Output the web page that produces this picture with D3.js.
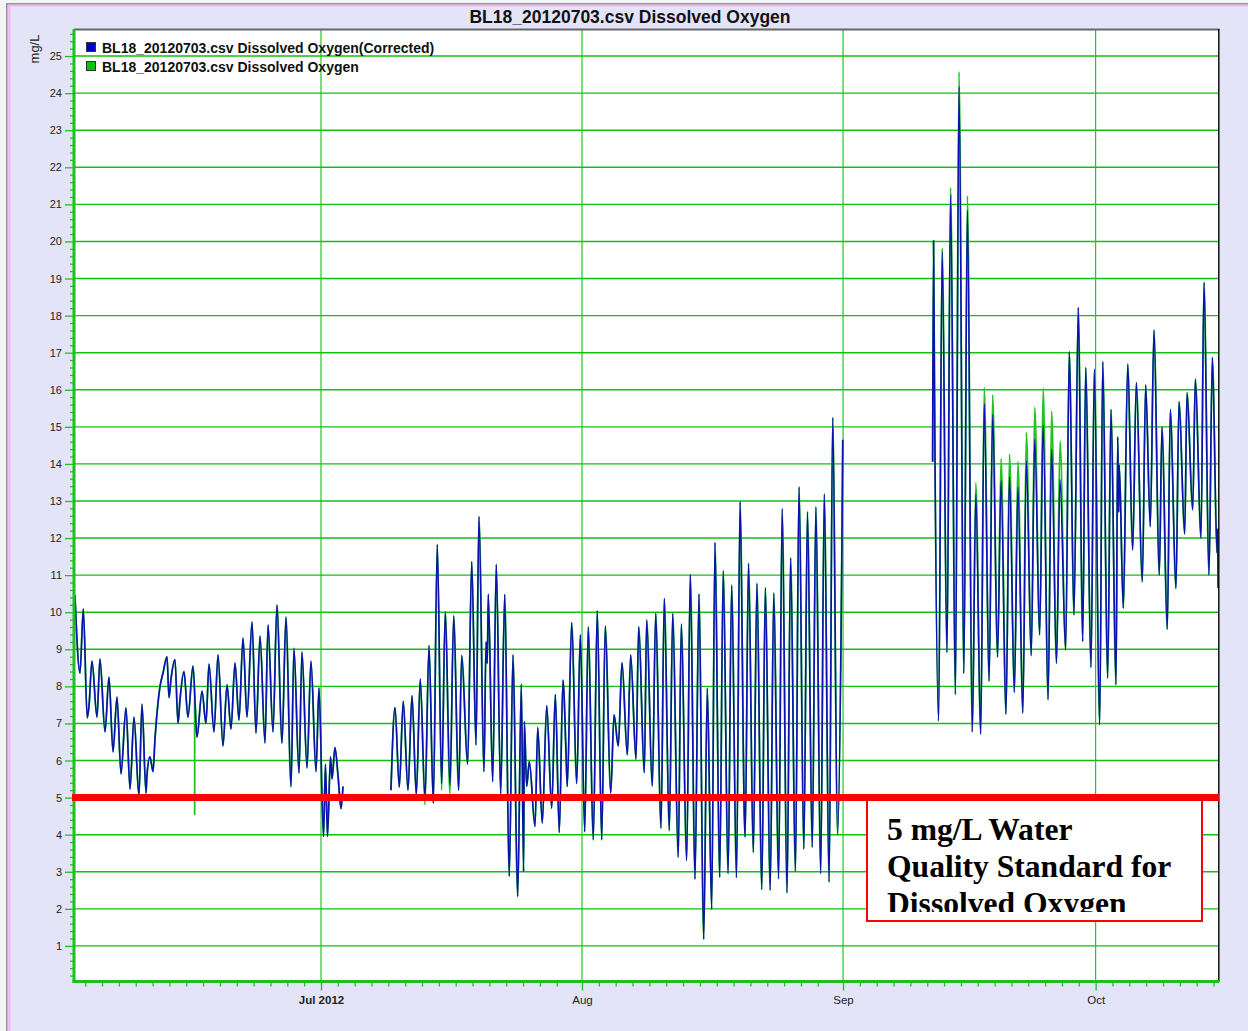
<!DOCTYPE html>
<html lang="en">
<head>
<meta charset="UTF-8">
<title>BL18_20120703.csv Dissolved Oxygen</title>
<script src="https://cdn.jsdelivr.net/npm/d3@7"></script>
<style>
  body { margin: 0; background: #fff; }
  svg { display: block; font-family: "Liberation Sans", Arial, sans-serif; }
</style>
</head>
<body>
<svg></svg>
<script>
const width = 1248, height = 1031;
const plot = { left: 74, right: 1218, top: 29, bottom: 981.5 };

const chartTitle = 'BL18_20120703.csv Dissolved Oxygen';
const seriesNames = ['BL18_20120703.csv Dissolved Oxygen(Corrected)', 'BL18_20120703.csv Dissolved Oxygen'];
const yLabel = 'mg/L';
const monthTicks = ['2012-07-01', '2012-08-01', '2012-09-01', '2012-10-01'];
const monthLabels = ['Jul 2012', 'Aug', 'Sep', 'Oct'];
const timeRange = ['2012-06-01T16:00Z', '2012-10-15T12:45Z'];
const valueRange = [0.04, 25.73];
const standard = 5;
const noteLines = ['5 mg/L Water', 'Quality Standard for', 'Dissolved Oxygen'];

// readings: [days since 2012-07-01 00:00 UTC, mg/L] - one array per logger deployment
const juneSeg = [
  [-29.22, 10.46], [-28.62, 8.36], [-28.23, 10.09], [-27.76, 7.15], [-27.55, 7.47], [-27.20, 8.68],
  [-26.60, 7.17], [-26.25, 8.74], [-25.65, 6.77], [-25.18, 8.25], [-24.70, 6.23], [-24.23, 7.71],
  [-23.75, 5.64], [-23.16, 7.42], [-22.68, 5.23], [-22.21, 7.17], [-21.62, 5.05], [-21.26, 7.52],
  [-20.78, 5.12], [-20.67, 5.6], [-20.31, 6.1], [-19.95, 5.7], [-19.71, 6.6], [-19.36, 7.55],
  [-19.12, 8.0], [-18.76, 8.36], [-18.29, 8.8], [-18.05, 7.7], [-17.81, 8.2], [-17.34, 8.72],
  [-16.98, 7.0], [-16.75, 7.63], [-16.27, 8.4], [-15.80, 7.17], [-15.20, 8.55], [-14.73, 6.63],
  [-14.13, 7.87], [-13.66, 7.0], [-13.30, 8.6], [-12.71, 6.77], [-12.23, 8.85], [-11.64, 6.39],
  [-11.16, 8.04], [-10.69, 6.85], [-10.21, 8.63], [-9.74, 7.09], [-9.26, 9.3], [-8.79, 7.17],
  [-8.19, 9.74], [-7.72, 6.74], [-7.24, 9.36], [-6.65, 6.47], [-6.29, 9.66], [-5.70, 6.77],
  [-5.23, 10.19], [-4.63, 6.47], [-4.16, 9.87], [-3.56, 5.29], [-3.21, 9.03], [-2.61, 5.66],
  [-2.26, 8.93], [-1.66, 5.8], [-1.19, 8.68], [-0.59, 5.7], [-0.24, 7.96], [0.30, 3.95],
  [0.53, 5.9], [0.77, 3.95], [1.13, 6.1], [1.31, 5.5], [1.66, 6.35], [2.02, 5.6], [2.38, 4.7], [2.61, 5.3]
];
const julyAugSeg = [
  [8.31, 5.2], [8.79, 7.43], [9.30, 5.28], [9.77, 7.6], [10.33, 5.2], [10.81, 7.75], [11.32, 5.07],
  [11.79, 8.2], [12.35, 5.0], [12.83, 9.1], [13.34, 4.85], [13.81, 11.83], [14.33, 5.38], [14.76, 10.01],
  [15.32, 5.34], [15.76, 9.9], [16.35, 5.2], [16.71, 8.83], [17.42, 5.9], [17.90, 11.36], [18.41, 6.42],
  [18.76, 12.58], [19.36, 5.7], [19.60, 9.2], [19.75, 8.62], [19.87, 10.48], [20.39, 5.43], [20.82, 11.29],
  [21.34, 5.1], [21.82, 10.48], [22.36, 2.88], [22.80, 8.85], [23.36, 2.33], [23.79, 8.06], [24.06, 3.0],
  [24.15, 7.05], [24.43, 5.3], [24.74, 5.97], [25.42, 4.22], [25.74, 6.89], [26.28, 4.31], [26.81, 7.48],
  [27.40, 4.71], [27.83, 7.78], [28.30, 4.06], [28.74, 8.17], [28.86, 7.8], [29.10, 6.2], [29.25, 5.3],
  [29.77, 9.72], [30.37, 5.38], [30.80, 9.39], [31.32, 4.08], [31.74, 9.61], [32.34, 3.86], [32.81, 10.04],
  [33.34, 3.86], [33.76, 9.63], [34.41, 5.12], [34.80, 7.23], [35.31, 6.39], [35.75, 8.64], [36.38, 6.15],
  [36.78, 8.85], [37.41, 6.03], [37.73, 9.61], [38.40, 5.67], [38.68, 9.79], [39.35, 5.31], [39.75, 9.97],
  [40.38, 4.17], [40.77, 10.37], [41.37, 4.11], [41.77, 9.97], [42.43, 3.39], [42.79, 9.68], [43.43, 3.3],
  [43.86, 11.02], [44.42, 2.8], [44.89, 10.49], [45.45, 1.18], [45.88, 7.95], [46.40, 1.99], [46.79, 11.88],
  [47.35, 2.85], [47.77, 11.12], [48.35, 2.95], [48.77, 10.73], [49.35, 2.84], [49.77, 12.98],
  [50.28, 4.5], [50.38, 3.94], [50.77, 11.32], [51.35, 3.52], [51.77, 10.78], [52.35, 2.52], [52.77, 10.66],
  [53.35, 2.5], [53.77, 10.52], [54.35, 2.81], [54.77, 12.79], [55.35, 2.43], [55.77, 11.47],
  [56.35, 3.0], [56.77, 13.38], [57.35, 3.61], [57.77, 12.71], [58.35, 3.66], [58.77, 12.84],
  [59.35, 2.95], [59.77, 13.19], [60.35, 2.72], [60.77, 15.25], [61.35, 4.0], [61.85, 11.4], [61.97, 14.65]
];
const sepOctSeg = [
  [72.64, 14.06], [72.75, 20.02], [72.85, 16.4], [73.35, 7.07], [73.77, 19.72], [74.35, 8.91], [74.77, 21.27],
  [75.35, 7.78], [75.77, 24.18], [76.35, 8.35], [76.77, 20.85], [77.35, 6.77], [77.77, 13.19],
  [78.35, 6.71], [78.77, 15.62], [79.35, 8.14], [79.77, 15.33], [80.35, 8.79], [80.77, 13.55],
  [81.35, 7.25], [81.77, 13.66], [82.35, 7.84], [82.77, 13.37], [83.35, 7.28], [83.77, 14.08],
  [84.35, 8.83], [84.77, 14.67], [85.35, 9.39], [85.77, 15.05], [86.35, 7.64], [86.77, 14.41],
  [87.35, 8.62], [87.77, 13.58], [88.44, 8.98], [88.87, 17.03], [89.43, 9.93], [89.94, 18.22],
  [90.46, 9.21], [90.82, 16.6], [91.45, 8.51], [91.84, 16.55], [92.48, 6.96], [92.84, 16.76],
  [93.43, 8.22], [93.82, 15.47], [94.42, 8.04], [94.62, 14.73], [94.74, 12.7], [94.81, 13.97],
  [95.28, 10.11], [95.81, 16.69], [96.40, 11.68], [96.83, 16.19], [97.54, 10.82], [97.94, 16.13],
  [98.49, 12.31], [98.93, 17.61], [99.56, 11.0], [99.88, 15.0], [100.51, 9.54], [100.87, 15.47],
  [101.54, 10.64], [101.90, 15.68], [102.58, 12.11], [102.85, 15.92], [103.53, 12.76], [103.84, 16.29],
  [104.51, 11.99], [104.87, 18.9], [105.46, 11.0], [105.86, 16.87], [106.42, 11.6], [106.47, 12.25], [106.55, 10.65]
];
// points where the uncorrected series reads differently
const rawDiffs = [
  [12.35, 4.8], [14.33, 5.2], [15.32, 5.1],
  [73.77, 19.82], [74.77, 21.45], [75.77, 24.57], [76.77, 21.23], [77.77, 13.49], [78.77, 16.06],
  [79.77, 15.86], [80.77, 14.14], [81.77, 14.26], [82.77, 14.06], [83.77, 14.85], [84.77, 15.53],
  [85.77, 16.04], [86.77, 15.42], [87.77, 14.62]
];
// extra readings that only exist in the uncorrected series
const rawExtra = [[-15.005, 7.75], [-15.0, 4.55], [-14.995, 7.71]];

const corrected = [juneSeg, julyAugSeg, sepOctSeg];
const diffMap = new Map(rawDiffs.map(d => [d[0], d[1]]));
const raw = corrected.map(seg => {
  const pts = seg.map(d => [d[0], diffMap.has(d[0]) ? diffMap.get(d[0]) : d[1]]);
  rawExtra.filter(e => e[0] > seg[0][0] && e[0] < seg[seg.length - 1][0]).forEach(e => pts.push(e));
  return pts.sort((a, b) => a[0] - b[0]);
});

const jul1 = Date.UTC(2012, 6, 1);
const toDate = d => new Date(jul1 + d * 864e5);

const gridGreen = '#12bf12';
const axisGreen = '#1fbf1f';

const svg = d3.select('svg').attr('width', width).attr('height', height);

// window frame
svg.append('rect').attr('width', width).attr('height', height).attr('fill', '#e4e4f8');
svg.append('rect').attr('width', width).attr('height', 3).attr('fill', '#f4f4f4');
svg.append('rect').attr('width', 6).attr('height', height).attr('fill', '#f4f4f4');
svg.append('line').attr('x1', 6).attr('x2', width).attr('y1', 3.8).attr('y2', 3.8).attr('stroke', '#808080').attr('stroke-width', 1.2);
svg.append('line').attr('x1', 6.8).attr('x2', 6.8).attr('y1', 3.5).attr('y2', height).attr('stroke', '#808080').attr('stroke-width', 1.2);
svg.append('line').attr('x1', 8).attr('x2', width).attr('y1', 5.6).attr('y2', 5.6).attr('stroke', '#f0b4f0').attr('stroke-width', 1.8);
svg.append('line').attr('x1', 9.3).attr('x2', 9.3).attr('y1', 5).attr('y2', height).attr('stroke', '#f0b4f0').attr('stroke-width', 2.2);

const x = d3.scaleUtc().domain(timeRange.map(s => new Date(s))).range([plot.left, plot.right]);
const y = d3.scaleLinear().domain(valueRange).range([plot.bottom, plot.top]);

svg.append('rect')
  .attr('x', plot.left).attr('y', plot.top)
  .attr('width', plot.right - plot.left).attr('height', plot.bottom - plot.top)
  .attr('fill', '#fff');

// grid
svg.append('g').selectAll('line')
  .data(d3.range(1, 26))
  .join('line')
  .attr('x1', plot.left).attr('x2', plot.right)
  .attr('y1', d => y(d)).attr('y2', d => y(d))
  .attr('stroke', gridGreen).attr('stroke-width', 1.4);

const months = monthTicks.map(s => new Date(s + 'T00:00Z'));
svg.append('g').selectAll('line')
  .data(months)
  .join('line')
  .attr('x1', d => x(d)).attr('x2', d => x(d))
  .attr('y1', plot.top).attr('y2', plot.bottom)
  .attr('stroke', gridGreen).attr('stroke-width', 1.1);

// series: raw (green) under corrected (blue)
const line = d3.line()
  .curve(d3.curveMonotoneX)
  .x(d => x(toDate(d[0]))).y(d => y(d[1]));
svg.append('g').selectAll('path')
  .data(raw)
  .join('path')
  .attr('d', line)
  .attr('fill', 'none').attr('stroke', '#22c422').attr('stroke-width', 1.8).attr('stroke-linejoin', 'round');
svg.append('g').selectAll('path')
  .data(corrected)
  .join('path')
  .attr('d', line)
  .attr('fill', 'none').attr('stroke', '#0c10b0').attr('stroke-width', 1.6).attr('stroke-linejoin', 'round');

// y axis
const yMinor = d3.range(1, 129).map(i => i / 5).filter((v, i) => (i + 1) % 5 !== 0 && v < valueRange[1]);
const yMinorAxis = svg.append('g')
  .attr('transform', `translate(${plot.left},0)`)
  .call(d3.axisLeft(y).tickValues(yMinor).tickSize(4).tickFormat(''));
const yAxis = svg.append('g')
  .attr('transform', `translate(${plot.left},0)`)
  .call(d3.axisLeft(y).tickValues(d3.range(1, 26)).tickSize(9).tickPadding(3));
[yMinorAxis, yAxis].forEach(g => {
  g.select('.domain').remove();
  g.selectAll('line').attr('stroke', axisGreen).attr('stroke-width', 1.3);
});
yAxis.selectAll('text')
  .attr('font-family', '"Liberation Sans", Arial, sans-serif')
  .attr('font-size', 11).attr('fill', '#222');

// x axis
const xMinor = d3.utcDay.range(x.domain()[0], x.domain()[1])
  .filter(dt => dt.getUTCDate() % 2 === 1 && dt.getUTCDate() > 1 && dt.getUTCDate() <= 29);
const xMinorAxis = svg.append('g')
  .attr('transform', `translate(0,${plot.bottom})`)
  .call(d3.axisBottom(x).tickValues(xMinor).tickSize(5).tickFormat(''));
const xAxis = svg.append('g')
  .attr('transform', `translate(0,${plot.bottom})`)
  .call(d3.axisBottom(x).tickValues(months).tickSize(9).tickPadding(5)
    .tickFormat((d, i) => monthLabels[i]));
[xMinorAxis, xAxis].forEach(g => {
  g.select('.domain').remove();
  g.selectAll('line').attr('stroke', axisGreen).attr('stroke-width', 1.3);
});
xAxis.selectAll('text')
  .attr('font-family', '"Liberation Sans", Arial, sans-serif')
  .attr('font-size', 11.5).attr('fill', '#222')
  .attr('font-weight', (d, i) => i === 0 ? 'bold' : 'normal');

// plot border
svg.append('line').attr('x1', plot.left).attr('x2', plot.right + 1.5).attr('y1', plot.top + 0.5).attr('y2', plot.top + 0.5)
  .attr('stroke', '#666').attr('stroke-width', 2);
svg.append('line').attr('x1', plot.right + 0.8).attr('x2', plot.right + 0.8).attr('y1', plot.top).attr('y2', plot.bottom)
  .attr('stroke', '#111').attr('stroke-width', 1.5);
svg.append('line').attr('x1', plot.left).attr('x2', plot.left).attr('y1', plot.top).attr('y2', plot.bottom + 1.5)
  .attr('stroke', axisGreen).attr('stroke-width', 3);
svg.append('line').attr('x1', plot.left - 1.5).attr('x2', plot.right + 1.5).attr('y1', plot.bottom).attr('y2', plot.bottom)
  .attr('stroke', axisGreen).attr('stroke-width', 3);

// water quality standard
svg.append('line')
  .attr('x1', plot.left - 2).attr('x2', plot.right + 1)
  .attr('y1', y(standard)).attr('y2', y(standard))
  .attr('stroke', '#ff0000').attr('stroke-width', 7);

const note = { x: 867, y: 800, w: 335, h: 121 };
svg.append('rect')
  .attr('x', note.x).attr('y', note.y).attr('width', note.w).attr('height', note.h)
  .attr('fill', '#fff').attr('stroke', '#ff0000').attr('stroke-width', 2);
svg.append('clipPath').attr('id', 'noteClip')
  .append('rect').attr('x', note.x).attr('y', note.y).attr('width', note.w).attr('height', 112);
svg.append('g').attr('clip-path', 'url(#noteClip)')
  .selectAll('text')
  .data(noteLines)
  .join('text')
  .attr('x', 887)
  .attr('y', (d, i) => 839.5 + i * 37.3)
  .attr('font-family', '"Liberation Serif", "Times New Roman", serif')
  .attr('font-weight', 'bold').attr('font-size', 31.6).attr('fill', '#000')
  .text(d => d);

// title, unit label
svg.append('text')
  .attr('x', 630).attr('y', 23)
  .attr('text-anchor', 'middle')
  .attr('font-weight', 'bold').attr('font-size', 17.5).attr('fill', '#111')
  .text(chartTitle);
svg.append('text')
  .attr('transform', 'translate(39,49) rotate(-90)')
  .attr('text-anchor', 'middle')
  .attr('font-size', 13).attr('fill', '#222')
  .text(yLabel);

// legend
const legend = svg.append('g').selectAll('g')
  .data(seriesNames)
  .join('g')
  .attr('transform', (d, i) => `translate(86,${42 + i * 19})`);
legend.append('rect')
  .attr('x', 0.5).attr('y', 0.5).attr('width', 9).attr('height', 9)
  .attr('fill', (d, i) => i === 0 ? '#0000c8' : '#00c800')
  .attr('stroke', '#333').attr('stroke-width', 1);
legend.append('text')
  .attr('x', 16).attr('y', 10.5)
  .attr('font-weight', 'bold').attr('font-size', 14).attr('fill', '#111')
  .text(d => d);
</script>
</body>
</html>
